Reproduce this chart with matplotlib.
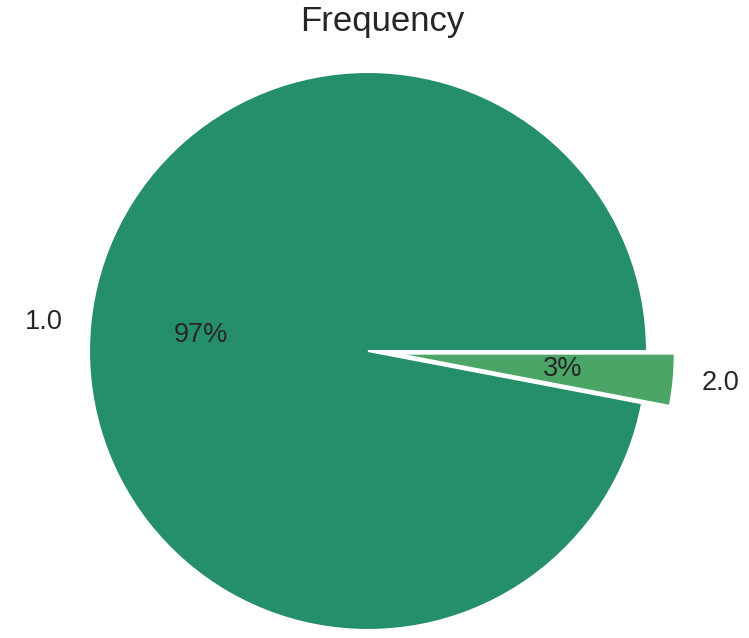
import matplotlib
matplotlib.use("Agg")
import matplotlib.pyplot as plt

labels = ["1.0", "2.0"]
shares = [97, 3]
colors = ["#248F68", "#4AA567"]
explode = [0, 0.1]
title = "Frequency"

plt.rcParams['font.family'] = ['Liberation Sans', 'DejaVu Sans']

W, H = 749, 638
fig = plt.figure(figsize=(W / 100, H / 100), dpi=100)
R = 279.0
cx, cy = 368.0, 351.0
half = 1.25
size = 2 * half * R
ax = fig.add_axes([(cx - size / 2) / W, (H - cy - size / 2) / H, size / W, size / H])
wedges, texts, autotexts = ax.pie(
    shares, labels=labels, colors=colors, explode=explode, autopct='%1.0f%%',
    startangle=0, labeldistance=1.1, pctdistance=0.6,
    wedgeprops=dict(edgecolor='white', linewidth=1.5),
    textprops=dict(fontsize=19.5, color='#262626'))
for w in wedges:
    w.set_clip_on(False)
ax.set_xlim(-half, half)
ax.set_ylim(-half, half)
ax.set_aspect('equal')
ax.axis('off')
fig.text(382 / W, 1 - 22 / H, title, ha='center', va='center', fontsize=25, color='#262626')
fig.savefig("out.png", dpi=100)
